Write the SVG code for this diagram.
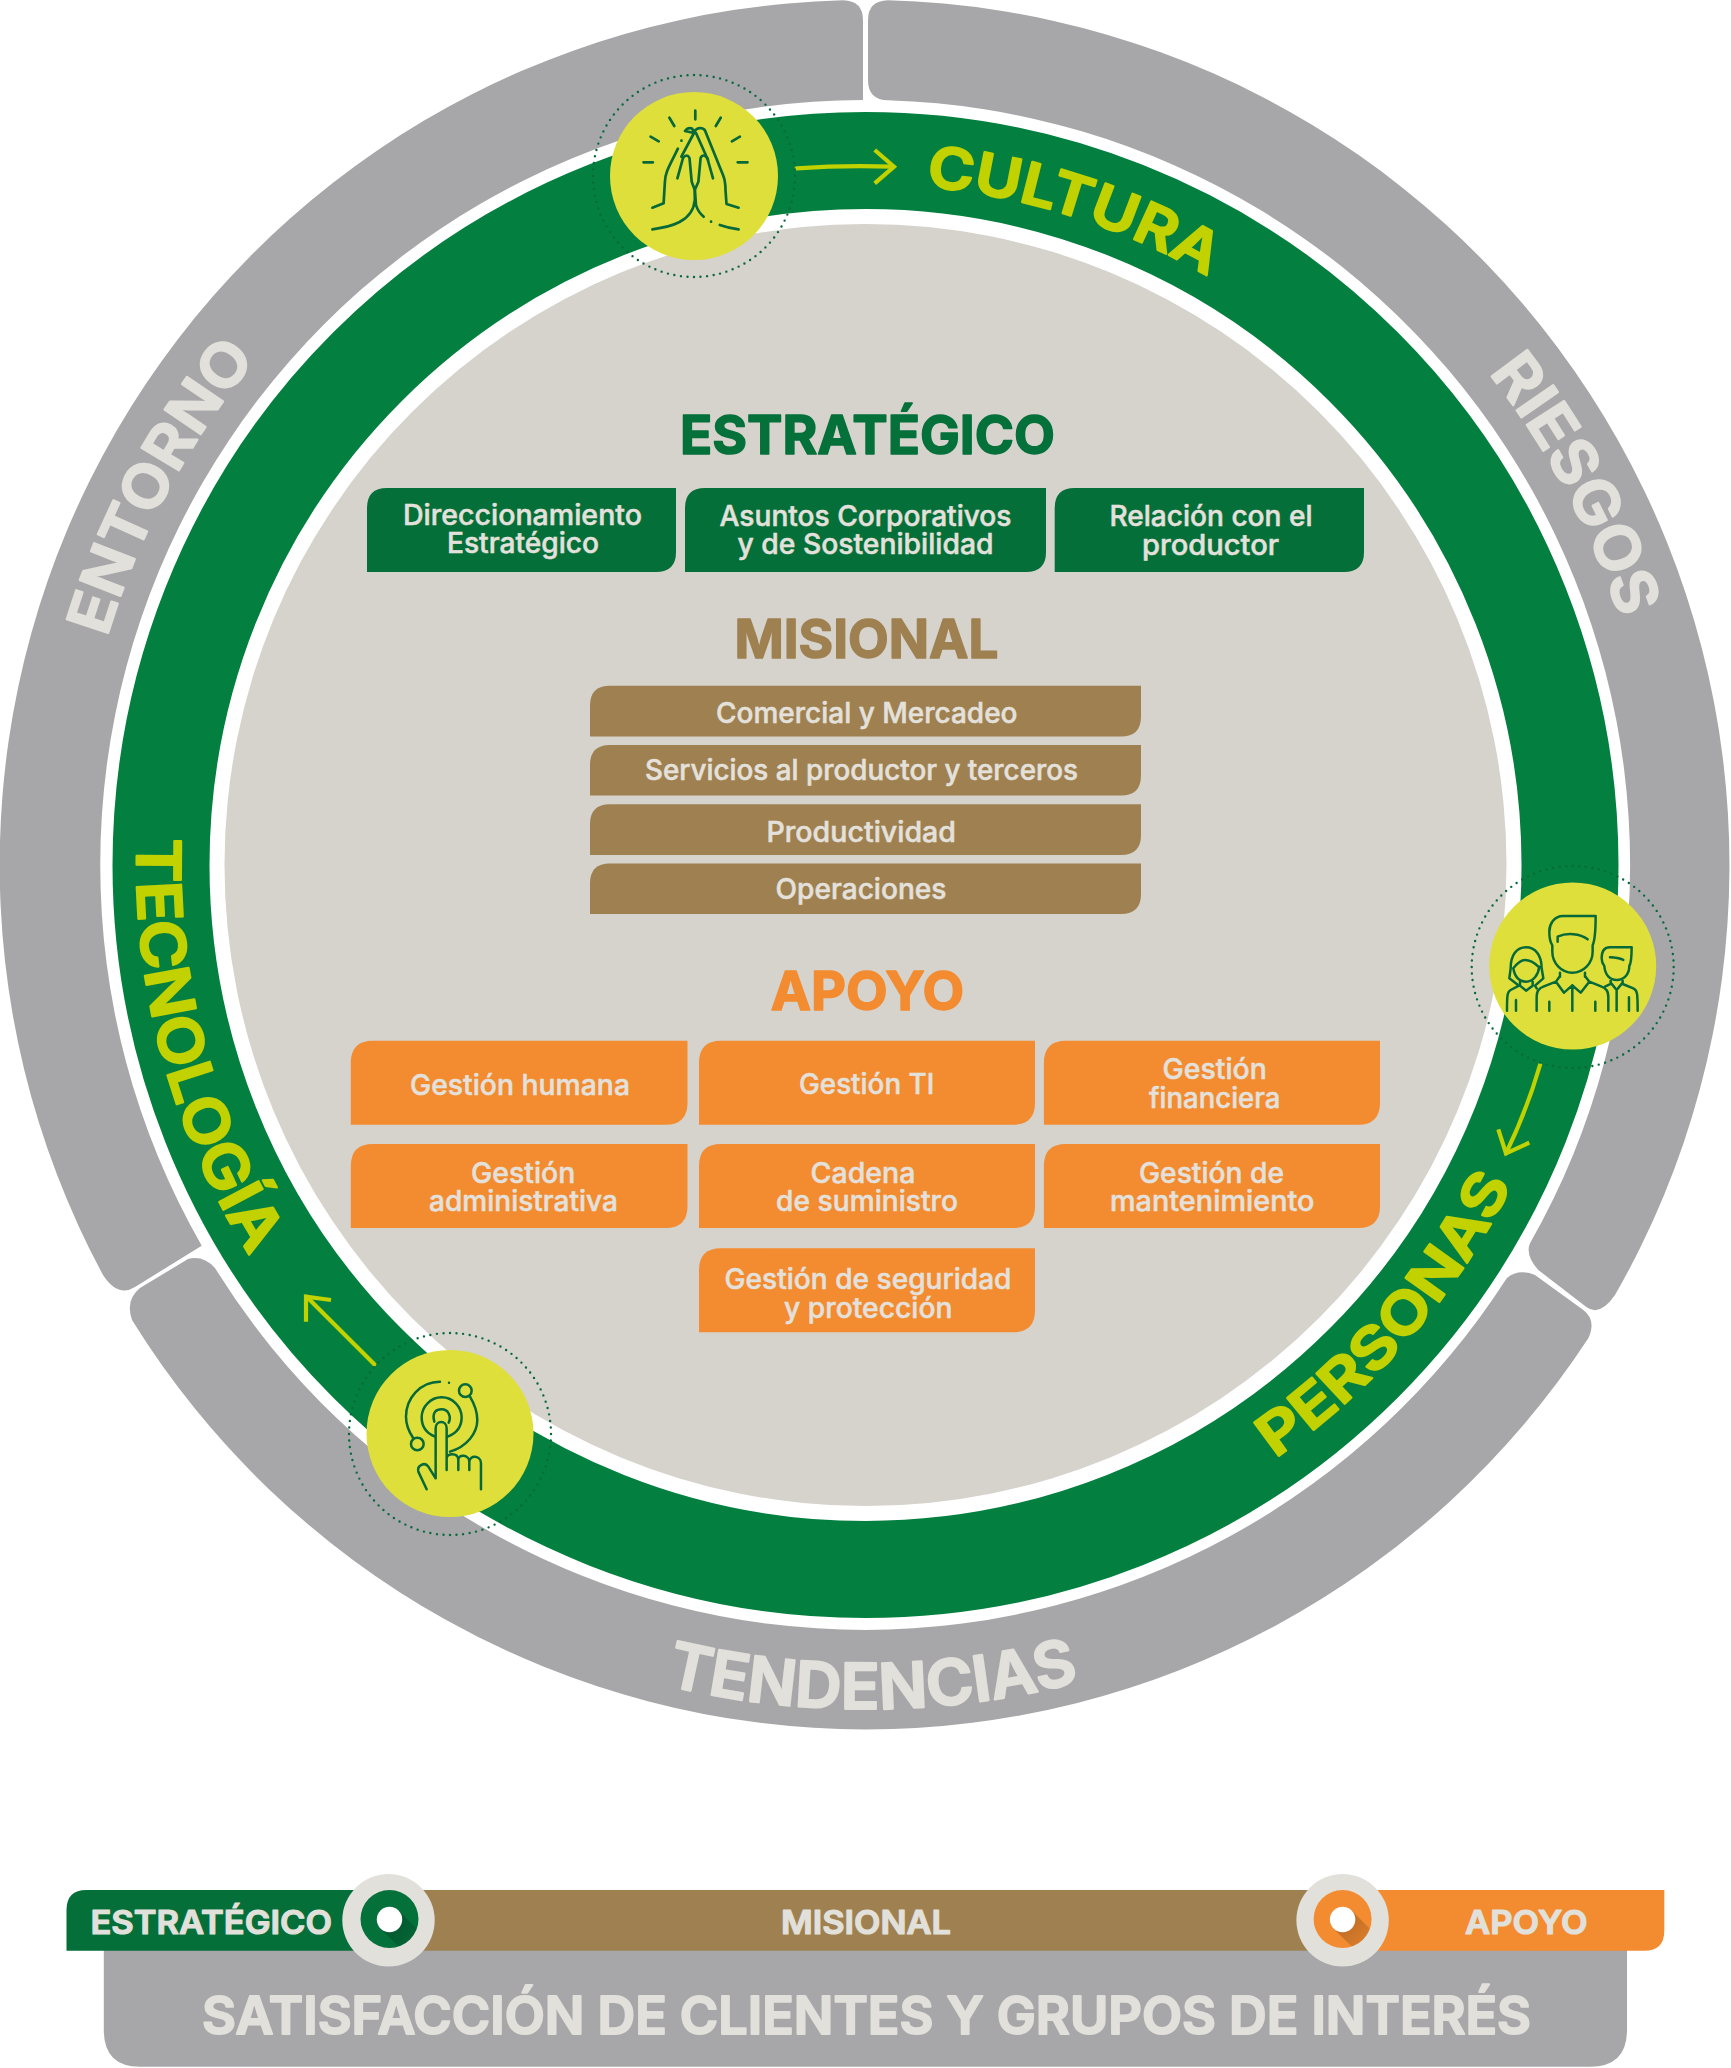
<svg xmlns="http://www.w3.org/2000/svg" width="1731" height="2068" viewBox="0 0 1731 2068">
<style>
text{font-family:"Inter","Liberation Sans",sans-serif}
.seg{fill:#a7a7a9}
.lab{fill:#e4e1dc;stroke:#e4e1dc;stroke-width:.5;font-size:28.5px;font-weight:500}
.n1 .lab{transform:translateY(1.2px)}
.head{font-size:54px;font-weight:700;stroke-width:1.5;stroke-linejoin:round}
.ring{font-size:60px;font-weight:600;stroke-width:2.2;stroke-linejoin:round}
.lime{fill:#c2d100;stroke:#c2d100}
.pale{fill:#e2e0db;stroke:#e2e0db}
.bar{font-size:33px;font-weight:600;fill:#e2e0db;stroke:#e2e0db;stroke-width:1.2;stroke-linejoin:round}
.g{fill:#046f39}.b{fill:#9f8050}.o{fill:#f38b30}
.badge{fill:#dfdf3b}
.dots{fill:none;stroke:#06693a;stroke-width:2.4;stroke-linecap:round;stroke-dasharray:0 6.6}
.ic{fill:none;stroke:#06693a;stroke-width:2.7;stroke-linecap:round;stroke-linejoin:round}
.ic3{fill:none;stroke:#06693a;stroke-width:7.5;stroke-linecap:round;stroke-linejoin:round}
.arr{fill:none;stroke:#c2d100;stroke-width:4.2}
</style>
<defs>
<path id="pCultura" d="M926,186.7A681,681 0 0 1 1347,383.5"/>
<path id="pRiesgos" d="M1488.8,373A794,794 0 0 1 1656.5,795.8"/>
<path id="pEntorno" d="M107,637.4A792,792 0 0 1 356.5,258.3"/>
<path id="pTend" d="M665.6,1685A844,844 0 0 0 1287.5,1596"/>
<path id="pPers" d="M1274.9,1458.5A721,721 0 0 0 1575.5,990"/>
<path id="pTec" d="M137,838.3A729,729 0 0 0 501,1496"/>
<clipPath id="cL"><circle cx="389.5" cy="1919" r="29"/></clipPath>
<clipPath id="cR"><circle cx="1342.6" cy="1919" r="29"/></clipPath>
<linearGradient id="sh" x1="0" y1="0" x2="1" y2="1"><stop offset="0" stop-color="#000" stop-opacity=".28"/><stop offset="1" stop-color="#000" stop-opacity="0"/></linearGradient>
</defs>

<g id="entorno">
<path class="seg" d="M863,100L863,20Q863,1 843,.3A865,865 0 0 0 103,1275Q118,1298 135,1287L201.7,1245.7A765,765 0 0 1 863,100Z"/>
<text class="ring pale"><textPath href="#pEntorno" textLength="318" lengthAdjust="spacingAndGlyphs">ENTORNO</textPath></text>
</g>
<g id="riesgos">
<path class="seg" d="M868,20Q868,1 888,.3A865,865 0 0 1 1615,1295Q1600,1316.7 1586.7,1307.3L1538.3,1270Q1525,1255 1530,1243.3A765,765 0 0 0 888,100.3Q868,100 868,80Z"/>
<text class="ring pale" style="font-size:61px"><textPath href="#pRiesgos" textLength="280" lengthAdjust="spacingAndGlyphs">RIESGOS</textPath></text>
</g>
<g id="tendencias">
<path class="seg" d="M215,1268Q203,1255 188,1259L140,1288Q125,1300 132,1320A865,865 0 0 0 865.5,1729.5A865,865 0 0 0 1588.3,1338.3Q1596.7,1320 1583.3,1310L1535,1275Q1518.3,1268.3 1506.7,1278.3A765,765 0 0 1 865.5,1630A765,765 0 0 1 215,1268Z"/>
<text class="ring pale" style="font-size:63px"><textPath href="#pTend" textLength="418" lengthAdjust="spacingAndGlyphs">TENDENCIAS</textPath></text>
</g>

<g id="anillo"><circle cx="865.5" cy="865" r="704.5" fill="none" stroke="#03803f" stroke-width="97"/></g>
<g id="centro"><circle cx="865.5" cy="865" r="641" fill="#d6d2cc"/></g>

<g id="etiquetas-anillo">
<text class="ring lime" style="font-size:57px"><textPath href="#pCultura" textLength="298" lengthAdjust="spacingAndGlyphs">CULTURA</textPath></text>
<text class="ring lime" style="font-size:57px"><textPath href="#pPers" textLength="366" lengthAdjust="spacingAndGlyphs">PERSONAS</textPath></text>
<text class="ring lime" style="font-size:61px"><textPath href="#pTec" textLength="439" lengthAdjust="spacingAndGlyphs">TECNOLOGÍA</textPath></text>
</g>

<g id="conectores">
<path class="arr" stroke-linecap="round" d="M796.6,168.3Q845,165 892.6,166.7"/>
<path class="arr" d="M874.7,150L894,166.7L874.7,183.3"/>
<path class="arr" stroke-linecap="round" d="M1540,1065Q1527,1110 1506,1153.3"/>
<path class="arr" d="M1498.3,1129.3L1506,1153.3L1529.3,1142.7"/>
<path class="arr" stroke-linecap="round" d="M374.3,1364.3L306.7,1296.7"/>
<path class="arr" d="M331,1300L306,1296.7L306,1321.7"/>
</g>

<g id="icono-cultura">
<circle class="dots" cx="694" cy="176" r="101"/>
<circle class="badge" cx="694" cy="176" r="84"/>
<path class="ic" d="M695.3,110.7V119.3M669.4,117.7L674.3,126M720.7,117.7L715.8,126M650.6,136.7L658.7,141.3M739.9,136.7L731.9,141.3M643.5,162.3H652.9M737.7,162.3H747.5"/>
<path class="ic" d="M677.9,148.7C670,165 665,172 664.9,182L663.6,203.3L652.4,207.7"/>
<path class="ic" d="M694,133L685,131Q688,127 692,128.5L694,132Q697,127 702,128.3Q705,129 706,133L723,175Q725.5,181 725.5,190L726.5,204L738.6,207.7"/>
<path class="ic" d="M694,133L681.4,156.7M696,133L708,160"/>
<path class="ic" d="M677.4,178.3L683,158Q687,153 689.5,158L691.7,181.7L694.8,190L694.8,200C693,222 670,227 652.4,229.3"/>
<path class="ic" d="M713,178.3L707.3,158Q703,153 700.6,158L698.4,181.7L694.8,190L696,205Q698,212 703.7,216.7"/>
<path class="ic" d="M719.8,225Q728,228 738.6,229.3M681.4,140.7h.1M711,221.7h.1"/>
</g>

<g id="icono-personas">
<circle class="dots" cx="1572.7" cy="967" r="101"/>
<circle class="badge" cx="1572.7" cy="966" r="83.5"/>
<g transform="translate(1420,840) scale(.3333)">
<path class="ic3" d="M527,228L430,228C400,228 388,255 388,275C388,295 393,310 397,316L397,335C397,370 425,398 457,398C490,398 518,370 518,335L518,316C525,300 527,280 527,228ZM413,305L413,290C440,278 480,280 503,298M420,398V410M495,398V410M420,408L408,425L432,458L457,436L482,458L508,425L495,408M457,436V512M408,425L370,440C355,445 350,455 350,470V512M508,425L545,440C560,445 565,455 565,470V512M388,485V512M526,485V512"/>
<path class="ic3" d="M272,385C272,345 290,322 318,322C345,322 365,345 365,385L370,415L345,437L350,445M272,385L268,415L297,437M280,385C285,415 300,425 318,425C340,425 355,405 358,380M280,385C290,372 300,360 315,360C330,360 345,370 355,380M300,425V437L318,452L338,437V425M297,437L272,450C262,455 261,465 261,512M288,480V512"/>
<path class="ic3" d="M635,322L570,322C550,322 545,340 545,355C545,365 548,372 553,378C555,405 570,420 590,420C610,420 628,405 628,378C633,370 635,350 635,322ZM570,352C585,352 600,355 610,360M572,420V428L590,450L608,428V420M590,450V512M608,432L640,445C652,450 653,460 653,512M572,432L555,440M627,472V512"/>
</g>
</g>

<g id="icono-tecnologia">
<circle class="dots" cx="450" cy="1434" r="101"/>
<circle class="badge" cx="450" cy="1433.5" r="83.5"/>
<g transform="translate(280,1270) scale(.3333)">
<path class="ic3" d="M480,335C420,335 378,385 378,440C378,470 390,490 400,505M570,380C585,405 592,425 592,450C592,490 560,530 510,545M465,500C440,490 425,470 425,442C425,410 452,382 485,382C518,382 545,410 545,442C545,470 530,490 503,500M463,455C455,425 470,418 485,418C505,418 515,440 506,458"/>
<circle class="ic3" cx="412" cy="522" r="19"/>
<circle class="ic3" cx="556" cy="362" r="19"/>
<path class="ic3" d="M467,625V475C467,450 500,450 500,475V600M500,565C500,550 535,545 535,570V600M535,570C535,550 568,555 568,575V600M568,575C568,555 603,555 603,580V658M467,625L445,590C435,575 410,585 415,605L440,658M507,338h.1"/>
</g>
</g>

<g id="estrategico">
<text class="head" x="680" y="453.7" textLength="375" lengthAdjust="spacingAndGlyphs" fill="#04703a" stroke="#04703a">ESTRATÉGICO</text>
</g>
<g id="direccionamiento">
<path class="g" d="M387,488H676V552Q676,572 656,572H367V508Q367,488 387,488Z"/>
<text class="lab" x="403" y="525" textLength="239" lengthAdjust="spacingAndGlyphs">Direccionamiento</text>
<text class="lab" x="447" y="552.9" textLength="152" lengthAdjust="spacingAndGlyphs">Estratégico</text>
</g>
<g id="asuntos">
<path class="g" d="M705,488H1046V552Q1046,572 1026,572H685V508Q685,488 705,488Z"/>
<text class="lab" x="719.5" y="526" textLength="292" lengthAdjust="spacingAndGlyphs">Asuntos Corporativos</text>
<text class="lab" x="737.5" y="553.9" textLength="256" lengthAdjust="spacingAndGlyphs">y de Sostenibilidad</text>
</g>
<g id="relacion">
<path class="g" d="M1074.7,488H1364V552Q1364,572 1344,572H1054.7V508Q1054.7,488 1074.7,488Z"/>
<text class="lab" x="1109.5" y="526" textLength="203" lengthAdjust="spacingAndGlyphs">Relación con el</text>
<text class="lab" x="1142" y="554.6" textLength="137" lengthAdjust="spacingAndGlyphs">productor</text>
</g>

<g id="misional">
<text class="head" x="734.5" y="657.6" textLength="264" lengthAdjust="spacingAndGlyphs" fill="#9f8050" stroke="#9f8050">MISIONAL</text>
</g>
<g id="comercial" class="n1">
<path class="b" d="M610,685.8H1141V716.4Q1141,736.4 1121,736.4H590V705.8Q590,685.8 610,685.8Z"/>
<text class="lab" x="716" y="722.3" textLength="301.5" lengthAdjust="spacingAndGlyphs">Comercial y Mercadeo</text>
</g>
<g id="servicios" class="n1">
<path class="b" d="M610,745H1141V775.6Q1141,795.6 1121,795.6H590V765Q590,745 610,745Z"/>
<text class="lab" x="645" y="779" textLength="433" lengthAdjust="spacingAndGlyphs">Servicios al productor y terceros</text>
</g>
<g id="productividad" class="n1">
<path class="b" d="M610,804.3H1141V834.9Q1141,854.9 1121,854.9H590V824.3Q590,804.3 610,804.3Z"/>
<text class="lab" x="766.5" y="841" textLength="189.5" lengthAdjust="spacingAndGlyphs">Productividad</text>
</g>
<g id="operaciones" class="n1">
<path class="b" d="M610,863.5H1141V894Q1141,914 1121,914H590V883.5Q590,863.5 610,863.5Z"/>
<text class="lab" x="775.5" y="898" textLength="171" lengthAdjust="spacingAndGlyphs">Operaciones</text>
</g>

<g id="apoyo">
<text class="head" x="770.7" y="1010" textLength="193.5" lengthAdjust="spacingAndGlyphs" fill="#f38b30" stroke="#f38b30">APOYO</text>
</g>
<g id="humana" class="n1">
<path class="o" d="M373,1040.7H687.5V1102.7Q687.5,1124.7 665.5,1124.7H350.8V1062.7Q350.8,1040.7 373,1040.7Z"/>
<text class="lab" x="410" y="1094" textLength="220" lengthAdjust="spacingAndGlyphs">Gestión humana</text>
</g>
<g id="ti" class="n1">
<path class="o" d="M721,1040.7H1035V1102.7Q1035,1124.7 1013,1124.7H699V1062.7Q699,1040.7 721,1040.7Z"/>
<text class="lab" x="799" y="1093.3" textLength="135.3" lengthAdjust="spacingAndGlyphs">Gestión TI</text>
</g>
<g id="financiera" class="n1">
<path class="o" d="M1066,1040.7H1380V1102.7Q1380,1124.7 1358,1124.7H1043.9V1062.7Q1043.9,1040.7 1066,1040.7Z"/>
<text class="lab" x="1162.5" y="1078.3" textLength="104.3" lengthAdjust="spacingAndGlyphs">Gestión</text>
<text class="lab" x="1149" y="1106.7" textLength="131.5" lengthAdjust="spacingAndGlyphs">financiera</text>
</g>
<g id="administrativa" class="n1">
<path class="o" d="M373,1144H687.5V1206Q687.5,1228 665.5,1228H350.8V1166Q350.8,1144 373,1144Z"/>
<text class="lab" x="471" y="1181.7" textLength="104.3" lengthAdjust="spacingAndGlyphs">Gestión</text>
<text class="lab" x="429" y="1210" textLength="189" lengthAdjust="spacingAndGlyphs">administrativa</text>
</g>
<g id="cadena" class="n1">
<path class="o" d="M721,1144H1035V1206Q1035,1228 1013,1228H699V1166Q699,1144 721,1144Z"/>
<text class="lab" x="810.5" y="1181.7" textLength="105" lengthAdjust="spacingAndGlyphs">Cadena</text>
<text class="lab" x="776" y="1210" textLength="182" lengthAdjust="spacingAndGlyphs">de suministro</text>
</g>
<g id="mantenimiento" class="n1">
<path class="o" d="M1066,1144H1380V1206Q1380,1228 1358,1228H1043.9V1166Q1043.9,1144 1066,1144Z"/>
<text class="lab" x="1139" y="1181.7" textLength="145" lengthAdjust="spacingAndGlyphs">Gestión de</text>
<text class="lab" x="1110" y="1210" textLength="204.5" lengthAdjust="spacingAndGlyphs">mantenimiento</text>
</g>
<g id="seguridad" class="n1">
<path class="o" d="M721,1248.3H1035V1310.3Q1035,1332.3 1013,1332.3H699V1270.3Q699,1248.3 721,1248.3Z"/>
<text class="lab" x="724.5" y="1288.3" textLength="287" lengthAdjust="spacingAndGlyphs">Gestión de seguridad</text>
<text class="lab" x="784" y="1316.7" textLength="168.5" lengthAdjust="spacingAndGlyphs">y protección</text>
</g>

<g id="satisfaccion">
<path class="seg" d="M103.8,1950H1627V2030Q1627,2066.7 1590,2066.7H140Q103.8,2066.7 103.8,2030Z"/>
<text x="202" y="2034.3" textLength="1329" lengthAdjust="spacingAndGlyphs" font-size="52" font-weight="600" fill="#e2e0db" stroke="#e2e0db" stroke-width="2" stroke-linejoin="round">SATISFACCIÓN DE CLIENTES Y GRUPOS DE INTERÉS</text>
</g>
<g id="barra-misional">
<rect class="b" x="380" y="1890" width="970" height="60.7"/>
<text class="bar" x="781" y="1934" textLength="170" lengthAdjust="spacingAndGlyphs">MISIONAL</text>
</g>
<g id="barra-estrategico">
<path class="g" d="M86.5,1890H390V1950.7H66.5V1910Q66.5,1890 86.5,1890Z"/>
<text class="bar" x="90.5" y="1934" textLength="241.5" lengthAdjust="spacingAndGlyphs">ESTRATÉGICO</text>
<circle cx="388.5" cy="1920.3" r="46.2" fill="#e2e0db"/>
<circle cx="389.5" cy="1919" r="29" fill="#04703a"/>
<polygon clip-path="url(#cL)" points="380.5,1928.5 398.5,1910.5 430,1942 412,1960" fill="url(#sh)"/>
<circle cx="389.5" cy="1919.5" r="12.7" fill="#fff"/>
</g>
<g id="barra-apoyo">
<path class="o" d="M1342,1890H1664.3V1930.7Q1664.3,1950.7 1644.3,1950.7H1342Z"/>
<text class="bar" x="1465" y="1934" textLength="122.5" lengthAdjust="spacingAndGlyphs">APOYO</text>
<circle cx="1342.6" cy="1920.3" r="46.2" fill="#e2e0db"/>
<circle cx="1342.6" cy="1919" r="29" fill="#f38b30"/>
<polygon clip-path="url(#cR)" points="1333.6,1928.5 1351.6,1910.5 1383,1942 1365,1960" fill="url(#sh)"/>
<circle cx="1342.6" cy="1919.5" r="12.7" fill="#fff"/>
</g>
</svg>
